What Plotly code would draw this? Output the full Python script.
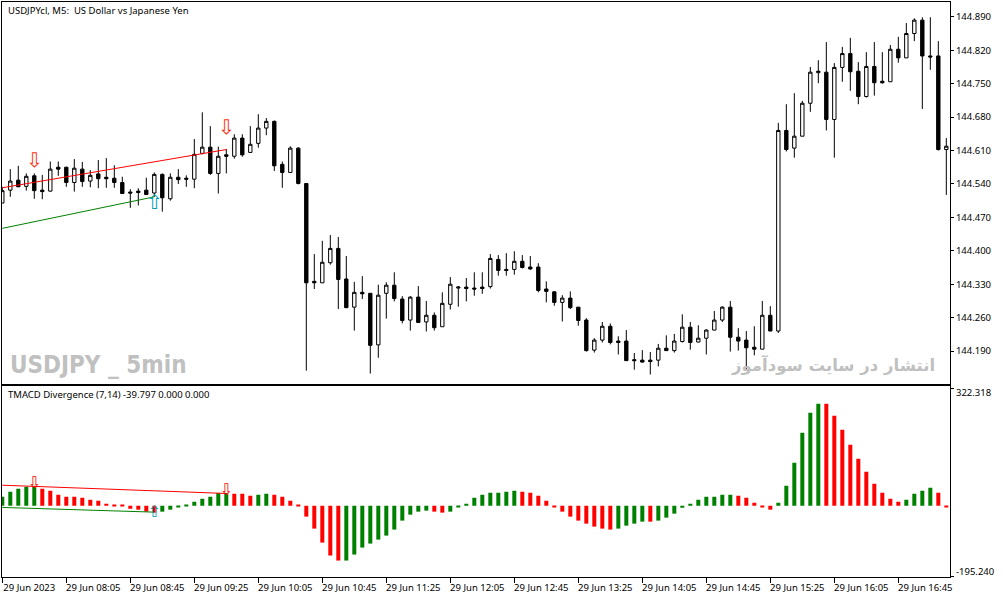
"""USDJPY M5 candles over a TMACD divergence histogram, in MT5 terminal style."""
import pandas as pd
import plotly.graph_objects as go

_FONT = "Noto Sans, DejaVu Sans, sans-serif"
_INK = "#000000"
_GREEN = "#008000"
_RED = "#ff0000"
_WATERMARK = "#c0c0c0"
_ARROW_DOWN = "#ff3010"
_ARROW_UP = "#00a0b0"

_WIDTH, _HEIGHT = 1003, 598

START = "2023-06-29 07:25"
BAR_COUNT = 119

opens = [
    144.500, 144.527, 144.548, 144.535, 144.557, 144.527, 144.525, 144.575, 144.575, 144.543,
    144.571, 144.546, 144.561, 144.554, 144.552, 144.543, 144.523, 144.525, 144.527, 144.521,
    144.560, 144.509, 144.554, 144.552, 144.550, 144.604, 144.617, 144.562, 144.601, 144.598,
    144.636, 144.606, 144.625, 144.657, 144.671, 144.581, 144.564, 144.615, 144.541, 144.336,
    144.333, 144.375, 144.405, 144.341, 144.282, 144.313, 144.311, 144.203, 144.311, 144.328,
    144.299, 144.255, 144.303, 144.251, 144.265, 144.241, 144.288, 144.322, 144.324, 144.322,
    144.324, 144.325, 144.382, 144.361, 144.361, 144.378, 144.366, 144.366, 144.320, 144.314,
    144.292, 144.301, 144.282, 144.255, 144.192, 144.213, 144.242, 144.211, 144.211, 144.172,
    144.171, 144.171, 144.171, 144.196, 144.191, 144.210, 144.240, 144.209, 144.217, 144.234,
    144.255, 144.282, 144.219, 144.213, 144.198, 144.194, 144.265, 144.232, 144.652, 144.615,
    144.640, 144.709, 144.773, 144.774, 144.675, 144.784, 144.813, 144.776, 144.723, 144.786,
    144.755, 144.754, 144.822, 144.804, 144.855, 144.883, 144.808, 144.808, 144.612,
]
highs = [
    144.534, 144.571, 144.578, 144.562, 144.562, 144.559, 144.587, 144.587, 144.576, 144.592,
    144.586, 144.569, 144.590, 144.594, 144.579, 144.555, 144.529, 144.531, 144.553, 144.564,
    144.562, 144.562, 144.571, 144.558, 144.634, 144.690, 144.661, 144.618, 144.613, 144.644,
    144.644, 144.661, 144.686, 144.678, 144.673, 144.587, 144.619, 144.617, 144.541, 144.393,
    144.421, 144.433, 144.429, 144.389, 144.335, 144.347, 144.311, 144.329, 144.334, 144.355,
    144.305, 144.305, 144.326, 144.295, 144.271, 144.313, 144.345, 144.326, 144.343, 144.355,
    144.355, 144.393, 144.391, 144.395, 144.399, 144.391, 144.389, 144.374, 144.336, 144.315,
    144.307, 144.315, 144.282, 144.259, 144.217, 144.251, 144.248, 144.221, 144.234, 144.186,
    144.192, 144.188, 144.205, 144.223, 144.226, 144.267, 144.251, 144.244, 144.236, 144.274,
    144.284, 144.295, 144.238, 144.232, 144.242, 144.295, 144.284, 144.668, 144.707, 144.730,
    144.714, 144.785, 144.799, 144.837, 144.793, 144.827, 144.846, 144.795, 144.816, 144.837,
    144.816, 144.831, 144.848, 144.877, 144.887, 144.889, 144.889, 144.839, 144.636,
]
lows = [
    144.500, 144.513, 144.534, 144.526, 144.509, 144.508, 144.524, 144.557, 144.534, 144.524,
    144.534, 144.533, 144.531, 144.532, 144.532, 144.519, 144.490, 144.495, 144.517, 144.513,
    144.482, 144.505, 144.540, 144.534, 144.531, 144.602, 144.559, 144.520, 144.562, 144.593,
    144.597, 144.606, 144.616, 144.642, 144.567, 144.532, 144.563, 144.539, 144.149, 144.320,
    144.333, 144.371, 144.278, 144.280, 144.233, 144.299, 144.143, 144.176, 144.258, 144.294,
    144.248, 144.233, 144.250, 144.231, 144.233, 144.241, 144.277, 144.283, 144.294, 144.306,
    144.310, 144.321, 144.348, 144.348, 144.350, 144.363, 144.360, 144.313, 144.292, 144.285,
    144.252, 144.278, 144.243, 144.189, 144.187, 144.208, 144.204, 144.183, 144.170, 144.151,
    144.166, 144.141, 144.158, 144.191, 144.187, 144.208, 144.193, 144.208, 144.183, 144.234,
    144.251, 144.189, 144.191, 144.151, 144.181, 144.194, 144.232, 144.228, 144.608, 144.595,
    144.640, 144.691, 144.751, 144.652, 144.595, 144.754, 144.735, 144.707, 144.721, 144.725,
    144.750, 144.754, 144.794, 144.804, 144.839, 144.697, 144.779, 144.610, 144.517,
]
closes = [
    144.526, 144.546, 144.534, 144.556, 144.526, 144.524, 144.571, 144.571, 144.543, 144.573,
    144.545, 144.558, 144.551, 144.551, 144.543, 144.520, 144.521, 144.522, 144.518, 144.560,
    144.511, 144.554, 144.549, 144.550, 144.602, 144.617, 144.562, 144.598, 144.598, 144.636,
    144.601, 144.623, 144.657, 144.671, 144.578, 144.564, 144.615, 144.541, 144.333, 144.333,
    144.376, 144.405, 144.340, 144.281, 144.313, 144.310, 144.202, 144.307, 144.328, 144.300,
    144.254, 144.303, 144.250, 144.265, 144.239, 144.290, 144.330, 144.324, 144.321, 144.320,
    144.321, 144.384, 144.359, 144.359, 144.378, 144.365, 144.362, 144.317, 144.315, 144.292,
    144.301, 144.281, 144.254, 144.191, 144.213, 144.242, 144.208, 144.208, 144.170, 144.170,
    144.167, 144.168, 144.196, 144.191, 144.211, 144.240, 144.208, 144.217, 144.234, 144.255,
    144.282, 144.219, 144.211, 144.197, 144.194, 144.265, 144.232, 144.652, 144.612, 144.640,
    144.709, 144.774, 144.776, 144.675, 144.784, 144.813, 144.775, 144.723, 144.786, 144.752,
    144.752, 144.822, 144.804, 144.855, 144.883, 144.808, 144.806, 144.612, 144.619,
]

macd_values = [
    24.7, 38.4, 46.6, 52.1, 52.1, 46.6, 41.1, 30.2, 24.7, 24.7,
    21.9, 16.5, 13.7, 5.5, 2.7, 2.7, -8.2, -11.0, -16.5, -19.2,
    -16.5, -11.0, -2.7, 2.7, 11.0, 19.2, 24.7, 34.7, 34.7, 32.9,
    32.9, 27.4, 30.2, 32.9, 30.2, 24.7, 13.7, 2.7, -30.2, -63.1,
    -101.5, -137.1, -150.9, -150.9, -134.4, -115.2, -104.2, -93.3, -82.3, -65.8,
    -41.1, -24.7, -16.5, -13.7, -16.5, -19.2, -16.5, -4.6, 5.5, 21.9,
    30.2, 35.7, 35.7, 38.4, 41.1, 38.4, 35.7, 27.4, 13.7, -2.7,
    -16.5, -30.2, -41.1, -49.4, -57.6, -63.1, -65.8, -63.1, -54.9, -49.4,
    -43.9, -43.9, -41.1, -32.9, -21.9, -5.5, 5.5, 16.5, 24.7, 24.7,
    30.2, 30.2, 27.4, 21.9, 8.2, -2.7, -11.0, 8.2, 54.9, 117.9,
    200.2, 255.1, 279.8, 279.8, 246.9, 208.5, 167.3, 128.9, 93.3, 60.3,
    35.7, 19.2, 11.0, 16.5, 32.9, 41.1, 49.4, 35.7, -2.7,
]
macd_state = (
    "gggggrrrrr"
    "rrrrrrrrrr"
    "gggggggggr"
    "rrggrrrrrr"
    "rrrggggggg"
    "ggggrrgggg"
    "gggggrrrrr"
    "rrrrrrrggg"
    "grgggggggg"
    "ggrrrrrggg"
    "gggrrrrrrr"
    "rrrggggrr"
)

price_ticks = [144.890, 144.820, 144.750, 144.680, 144.610, 144.540, 144.470, 144.400, 144.330, 144.260, 144.190]
macd_ticks = [322.318, -195.240]

tick_bars = [0, 8, 16, 24, 32, 40, 48, 56, 64, 72, 80, 88, 96, 104, 112]
tick_labels = [
    "29 Jun 2023", "29 Jun 08:05", "29 Jun 08:45", "29 Jun 09:25", "29 Jun 10:05",
    "29 Jun 10:45", "29 Jun 11:25", "29 Jun 12:05", "29 Jun 12:45", "29 Jun 13:25",
    "29 Jun 14:05", "29 Jun 14:45", "29 Jun 15:25", "29 Jun 16:05", "29 Jun 16:45",
]

# divergence trend lines: (bar index, value) at both ends
price_red_bars, price_red_values = [0, 28], [144.532, 144.612]
price_green_bars, price_green_values = [0, 19], [144.447, 144.513]
macd_red_bars, macd_red_values = [0, 28], [56.2, 33.5]
macd_green_bars, macd_green_values = [0, 19], [-4.9, -17.8]

price_down_bars, price_down_values = [4, 28], [144.585, 144.655]
price_up_bars, price_up_values = [19], [144.498]
macd_down_bars, macd_down_values = [4, 28], [59.0, 40.0]
macd_up_bars, macd_up_values = [19], [-20.6]

times = pd.date_range(START, periods=BAR_COUNT, freq="5min")


def at(bars):
    return [times[b] for b in bars]


def add_arrows(fig, bars, values, glyph, color, size, xaxis, yaxis):
    fig.add_trace(go.Scatter(
        x=at(bars), y=values, mode="text", text=[glyph] * len(bars), textposition="middle center",
        textfont=dict(family="DejaVu Sans", size=size, color=color), xaxis=xaxis, yaxis=yaxis,
        cliponaxis=False,
    ))


fig = go.Figure()

fig.add_trace(go.Scatter(x=at(price_red_bars), y=price_red_values, mode="lines",
                         line=dict(color=_RED, width=1), xaxis="x", yaxis="y"))
fig.add_trace(go.Scatter(x=at(price_green_bars), y=price_green_values, mode="lines",
                         line=dict(color=_GREEN, width=1), xaxis="x", yaxis="y"))
fig.add_trace(go.Candlestick(
    x=times, open=opens, high=highs, low=lows, close=closes, whiskerwidth=0,
    increasing=dict(fillcolor="#ffffff", line=dict(color=_INK, width=1)),
    decreasing=dict(fillcolor=_INK, line=dict(color=_INK, width=1)),
    xaxis="x", yaxis="y",
))
add_arrows(fig, price_down_bars, price_down_values, "\u21e9", _ARROW_DOWN, 20, "x", "y")
add_arrows(fig, price_up_bars, price_up_values, "\u21e7", _ARROW_UP, 20, "x", "y")

fig.add_trace(go.Bar(
    x=times, y=macd_values, width=150000,  # 2.5 minutes, half of the bar spacing
    marker=dict(color=[_GREEN if s == "g" else _RED for s in macd_state], line=dict(width=0)),
    xaxis="x2", yaxis="y2",
))
fig.add_trace(go.Scatter(x=at(macd_red_bars), y=macd_red_values, mode="lines",
                         line=dict(color=_RED, width=1), xaxis="x2", yaxis="y2"))
fig.add_trace(go.Scatter(x=at(macd_green_bars), y=macd_green_values, mode="lines",
                         line=dict(color=_GREEN, width=1), xaxis="x2", yaxis="y2"))
add_arrows(fig, macd_down_bars, macd_down_values, "\u21e9", _RED, 16, "x2", "y2")
add_arrows(fig, macd_up_bars, macd_up_values, "\u21e7", _ARROW_UP, 16, "x2", "y2")

x_range = ["2023-06-29 07:24:49", "2023-06-29 17:17:18"]
frame = dict(showline=True, linecolor=_INK, linewidth=1, mirror=True, showgrid=False, zeroline=False)

fig.update_layout(
    width=_WIDTH, height=_HEIGHT,
    paper_bgcolor="#ffffff", plot_bgcolor="#ffffff",
    font=dict(family=_FONT, size=9.5, color=_INK),
    showlegend=False, boxgap=0.4, hovermode=False,
    margin=dict(l=2, r=53, t=2, b=21, autoexpand=False),
    xaxis=dict(frame, domain=[0, 1], range=x_range, anchor="y", ticks="", showticklabels=False,
               rangeslider=dict(visible=False)),
    xaxis2=dict(frame, domain=[0, 1], range=x_range, anchor="y2", matches="x", ticks="outside", ticklen=5,
                tickcolor=_INK, tickvals=at(tick_bars), ticktext=tick_labels, tickangle=0, ticklabelshift=27,
                ticklabelstandoff=-3, ticklabeloverflow="allow"),
    yaxis=dict(frame, domain=[0.336, 1], range=[144.1215, 144.921], anchor="x", side="right", ticks="outside",
               ticklen=3, tickcolor=_INK, tickvals=price_ticks, ticktext=[f"{p:.3f}" for p in price_ticks]),
    yaxis2=dict(frame, domain=[0, 0.3315], range=[-196.1, 327.8], anchor="x2", side="right", ticks="outside",
                ticklen=3, tickcolor=_INK, tickvals=macd_ticks, showticklabels=False),
)

fig.add_annotation(text="USDJPYcl, M5:  US Dollar vs Japanese Yen", xref="paper", yref="paper", x=0.004, y=1,
                   xanchor="left", yanchor="top", showarrow=False, font=dict(size=9.5))
fig.add_annotation(text="TMACD Divergence (7,14) -39.797 0.000 0.000", xref="paper", yref="paper", x=0.004, y=0.332,
                   xanchor="left", yanchor="top", showarrow=False, font=dict(size=9.5))
fig.add_annotation(text="USDJPY _ 5min", xref="paper", yref="paper", x=0.006, y=0.3687, xanchor="left",
                   yanchor="middle", showarrow=False,
                   font=dict(family="DejaVu Sans Condensed, DejaVu Sans", size=24, color=_WATERMARK, weight="bold"))
fig.add_annotation(text="انتشار در سایت سودآموز", xref="paper", yref="paper", x=0.986, y=0.3687, xanchor="right",
                   yanchor="middle", showarrow=False,
                   font=dict(family="DejaVu Sans", size=16.5, color=_WATERMARK, weight="bold"))

# the two scale labels sit inside the pane, not level with their ticks
fig.add_annotation(text=f"{macd_ticks[0]:.3f}", xref="paper", yref="y2", x=1, y=macd_ticks[0], xanchor="left",
                   yanchor="middle", xshift=4, yshift=-4, showarrow=False)
fig.add_annotation(text=f"{macd_ticks[1]:.3f}", xref="paper", yref="y2", x=1, y=macd_ticks[1], xanchor="left",
                   yanchor="middle", xshift=4, yshift=5, showarrow=False)

fig.write_html("out.html", config=dict(displayModeBar=False), post_script="document.body.style.margin='0';")
